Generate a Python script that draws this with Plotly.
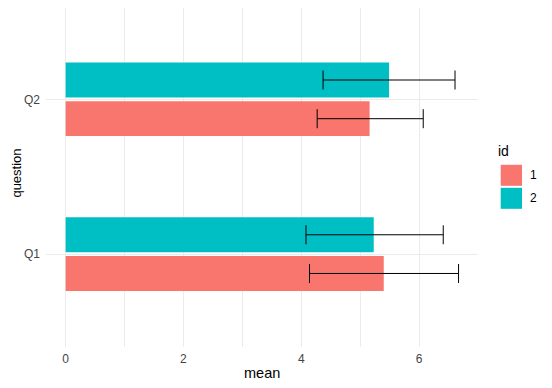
import plotly.graph_objects as go

questions = ["Q1", "Q2"]
ids = ["1", "2"]
mean_id1 = [5.40, 5.16]
lo_id1 = [4.14, 4.27]
hi_id1 = [6.67, 6.07]
mean_id2 = [5.23, 5.49]
lo_id2 = [4.08, 4.37]
hi_id2 = [6.41, 6.61]
colors = ["#F8766D", "#00BFC4"]
x_ticks = [0, 2, 4, 6]

# page body has an 8px margin; the figure is sized/positioned to compensate
OFF = 8
W, H = 552 - OFF, 388 - OFF
L = 46 - OFF
R = W - (478 - OFF)
T = 0
B = H - (346.8 - OFF)
pw, ph = W - L - R, H - T - B
y_top = (254 - OFF) / 154.7  # data value at top of panel (Q1 at window y=254)

fig = go.Figure()
for name, m, lo, hi, c in [(ids[0], mean_id1, lo_id1, hi_id1, colors[0]),
                           (ids[1], mean_id2, lo_id2, hi_id2, colors[1])]:
    fig.add_trace(go.Bar(
        y=questions, x=m, orientation="h", name=name,
        marker=dict(color=c, line=dict(width=0)),
        error_x=dict(type="data", symmetric=False,
                     array=[h - v for h, v in zip(hi, m)],
                     arrayminus=[v - l for l, v in zip(lo, m)],
                     color="black", thickness=1, width=9.5),
        showlegend=False,
    ))

font = "Liberation Sans, Arial, sans-serif"
fig.update_layout(
    width=W, height=H,
    margin=dict(l=L, r=R, t=T, b=B, pad=0, autoexpand=False),
    paper_bgcolor="white", plot_bgcolor="white",
    barmode="group", bargap=0.5, bargroupgap=0.1,
    font=dict(family=font, color="black"),
    xaxis=dict(range=[-0.3335, 7.0], tickvals=x_ticks,
               ticktext=[str(t) for t in x_ticks], automargin=False,
               showgrid=True, gridcolor="#EBEBEB", gridwidth=1,
               minor=dict(dtick=1, tick0=0, showgrid=True, gridcolor="#EBEBEB", gridwidth=0.6),
               zeroline=False, showline=False, ticks="", ticklabelstandoff=3,
               tickfont=dict(size=12, color="#444444", family=font)),
    yaxis=dict(type="category", categoryorder="array", categoryarray=questions,
               range=[-0.6, y_top], showgrid=True, gridcolor="#EBEBEB", gridwidth=1,
               zeroline=False, showline=False, ticks="", ticklabelstandoff=5, automargin=False,
               tickfont=dict(size=12, color="#444444", family=font)),
)

def px_x(p):
    return (p - OFF - L) / pw

def px_y(p):
    return (H - B - (p - OFF)) / ph

# axis titles
fig.add_annotation(text="mean", x=px_x(262), y=px_y(373), xref="paper", yref="paper",
                   xanchor="center", yanchor="middle", showarrow=False,
                   font=dict(size=14.5, color="black", family=font))
fig.add_annotation(text="question", x=px_x(17), y=px_y(172.5), xref="paper", yref="paper",
                   xanchor="center", yanchor="middle", showarrow=False, textangle=-90,
                   borderpad=0, font=dict(size=13, color="black", family=font))

# legend
fig.add_annotation(text="id", x=px_x(495.5), y=px_y(151), xref="paper", yref="paper",
                   xanchor="left", yanchor="middle", showarrow=False,
                   font=dict(size=14, color="black", family=font))
for i, (lab, c) in enumerate(zip(ids, colors)):
    y0 = 164.7 + i * 23
    fig.add_shape(type="rect", xref="paper", yref="paper",
                  x0=px_x(500.7), x1=px_x(522), y0=px_y(y0), y1=px_y(y0 + 21),
                  fillcolor=c, line=dict(width=0))
    fig.add_annotation(text=lab, x=px_x(528), y=px_y(y0 + 10.5), xref="paper", yref="paper",
                       xanchor="left", yanchor="middle", showarrow=False,
                       font=dict(size=12, color="black", family=font))

fig.write_html("out.html")
